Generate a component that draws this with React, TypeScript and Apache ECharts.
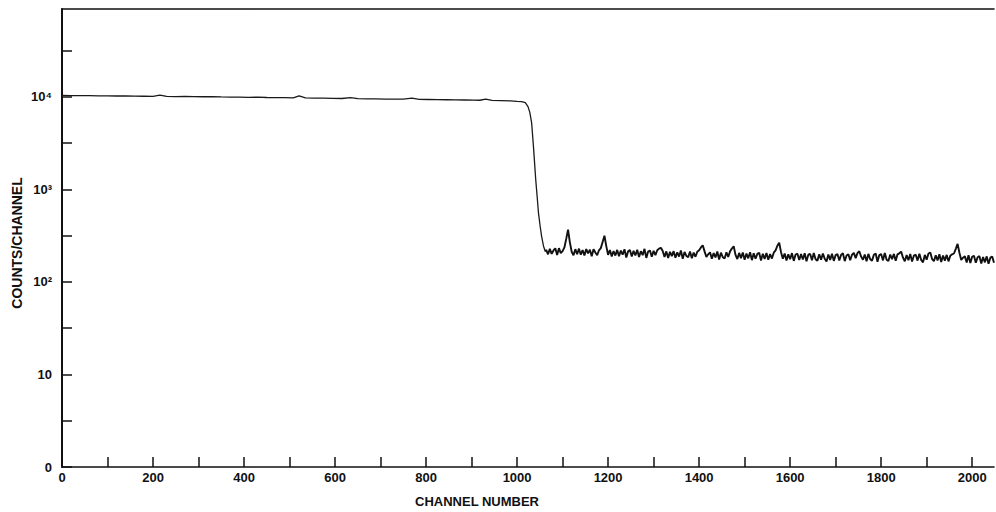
import { useEffect, useRef } from "react";
import * as echarts from "echarts";

// Flat part of the spectrum (channel, counts)
const plateauChannels = [
  0, 20, 40, 60, 80, 100, 120, 140, 160, 180, 200, 215, 230, 250, 270, 290, 310, 330, 350, 370,
  390, 410, 430, 450, 470, 490, 508, 521, 535, 555, 575, 595, 615, 634, 650, 670, 690, 710, 730, 750,
  769, 785, 805, 825, 845, 865, 885, 905, 918, 931, 945, 965, 985, 1000, 1010, 1018,
];
const plateauCounts = [
  10380, 10330, 10300, 10340, 10270, 10250, 10220, 10260, 10190, 10160, 10130, 10460, 10120, 10090, 10110, 10060, 10040, 10070, 10000, 9960,
  9930, 9900, 9920, 9850, 9830, 9800, 9760, 10240, 9740, 9700, 9680, 9640, 9610, 9840, 9570, 9540, 9510, 9480, 9460, 9440,
  9700, 9400, 9370, 9350, 9320, 9280, 9260, 9220, 9200, 9450, 9150, 9110, 9060, 8960, 8900, 8670,
];

// Edge (steep drop)
const dropChannels = [1024, 1028, 1032, 1036, 1041, 1044, 1047, 1051, 1054, 1058, 1062];
const dropCounts = [7850, 6800, 5240, 2900, 1270, 850, 557, 390, 309, 245, 213];

// Tail: counts every 4 channels from channel 1064
const tailStartChannel = 1064;
const tailStep = 4;
const tailCounts = [
  222, 199, 228, 201, 219, 231, 196, 232, 205, 215,
  236, 292, 368, 268, 212, 194, 226, 199, 229, 197,
  221, 193, 227, 204, 223, 190, 226, 208, 195, 220,
  232, 270, 316, 244, 196, 221, 189, 216, 193, 222,
  190, 218, 197, 226, 184, 214, 221, 188, 217, 193,
  223, 186, 215, 195, 228, 182, 213, 219, 187, 217,
  195, 220, 229, 234, 216, 186, 214, 181, 212, 190,
  215, 183, 209, 188, 219, 178, 211, 191, 185, 213,
  180, 208, 187, 212, 220, 236, 249, 214, 186, 199,
  209, 178, 205, 184, 213, 175, 207, 185, 179, 209,
  186, 214, 230, 243, 196, 177, 206, 181, 208, 174,
  203, 180, 209, 172, 204, 178, 201, 207, 170, 202,
  177, 206, 174, 200, 179, 207, 219, 246, 265, 210,
  178, 203, 171, 199, 176, 205, 169, 198, 202, 173,
  200, 175, 204, 167, 197, 201, 172, 205, 176, 170,
  199, 174, 203, 178, 166, 198, 173, 202, 169, 195,
  200, 171, 196, 204, 168, 193, 199, 172, 197, 206,
  181, 205, 215, 188, 174, 198, 167, 201, 176, 170,
  197, 203, 165, 195, 200, 171, 206, 174, 168, 198,
  176, 201, 169, 199, 204, 213, 183, 167, 195, 172,
  200, 166, 193, 197, 170, 202, 173, 163, 196, 174,
  203, 208, 177, 168, 194, 171, 199, 164, 193, 170,
  196, 167, 192, 199, 203, 228, 258, 207, 173, 183,
  189, 162, 194, 160, 187, 192, 161, 185, 190, 158,
  186, 163, 189, 157, 183, 188, 161,
];

const xTickChannels = [
  0, 100, 200, 300, 400, 500, 600, 700, 800, 900, 1000,
  1100, 1200, 1300, 1400, 1500, 1600, 1700, 1800, 1900, 2000,
];
const xLabelChannels = [0, 200, 400, 600, 800, 1000, 1200, 1400, 1600, 1800, 2000];
const yDecadeLabels = ["0", "10", "10²", "10³", "10⁴"];

const xTitle = "CHANNEL NUMBER";
const yTitle = "COUNTS/CHANNEL";

const FONT = "'Liberation Sans', Arial, Helvetica, sans-serif";

export default function App() {
  const ref = useRef<HTMLDivElement>(null);

  useEffect(() => {
    if (!ref.current) return;
    const chart = echarts.init(ref.current, undefined, { renderer: "svg" });

    const head: [number, number][] = [];
    plateauChannels.forEach((c, i) => head.push([c, Math.log10(plateauCounts[i])]));
    dropChannels.forEach((c, i) => head.push([c, Math.log10(dropCounts[i])]));
    const tail: [number, number][] = [
      [dropChannels[dropChannels.length - 1], Math.log10(dropCounts[dropCounts.length - 1])],
    ];
    tailCounts.forEach((v, i) => tail.push([tailStartChannel + i * tailStep, Math.log10(v)]));

    const axisColor = "#111";

    chart.setOption({
      animation: false,
      backgroundColor: "#fff",
      grid: { left: 62, right: 2, top: 9, bottom: 45, containLabel: false },
      xAxis: [
        {
          type: "value",
          min: 0,
          max: 2048,
          interval: 100,
          axisLine: { show: true, onZero: false, lineStyle: { color: axisColor, width: 1.6 } },
          axisTick: {
            show: true,
            inside: true,
            length: 10,
            lineStyle: { color: axisColor, width: 1.5 },
            customValues: xTickChannels,
          },
          axisLabel: {
            color: axisColor,
            fontFamily: FONT,
            fontWeight: "bold",
            fontSize: 13,
            margin: 4,
            customValues: xLabelChannels,
            formatter: (v: number) => (xLabelChannels.includes(v) ? String(v) : ""),
          },
          splitLine: { show: false },
        },
        {
          type: "value",
          position: "top",
          min: 0,
          max: 2048,
          axisLine: { show: true, onZero: false, lineStyle: { color: axisColor, width: 1.6 } },
          axisTick: { show: false },
          axisLabel: { show: false },
          splitLine: { show: false },
        },
      ],
      yAxis: {
        type: "value",
        min: 0,
        max: 4.95,
        interval: 0.5,
        axisLine: { show: true, onZero: false, lineStyle: { color: axisColor, width: 2 } },
        axisTick: { show: true, inside: true, length: 10, lineStyle: { color: axisColor, width: 1.5 } },
        axisLabel: {
          color: axisColor,
          fontFamily: FONT,
          fontWeight: "bold",
          fontSize: 13,
          margin: 10,
          showMaxLabel: false,
          formatter: (v: number) => {
            const r = Math.round(v);
            if (Math.abs(v - r) > 1e-6) return "";
            return yDecadeLabels[r] ?? "";
          },
        },
        splitLine: { show: false },
      },
      graphic: [
        {
          type: "text",
          x: 17,
          y: 243,
          rotation: Math.PI / 2,
          style: {
            text: yTitle,
            fill: axisColor,
            font: `bold 14px ${FONT}`,
            align: "center",
            verticalAlign: "middle",
          },
        },
        {
          type: "text",
          x: 477,
          y: 501,
          style: {
            text: xTitle,
            fill: axisColor,
            font: `bold 13px ${FONT}`,
            align: "center",
            verticalAlign: "middle",
          },
        },
      ],
      series: [
        {
          type: "line",
          xAxisIndex: 0,
          yAxisIndex: 0,
          data: head,
          showSymbol: false,
          symbol: "none",
          lineStyle: { color: "#1a1a1a", width: 1.3 },
          emphasis: { disabled: true },
        },
        {
          type: "line",
          xAxisIndex: 0,
          yAxisIndex: 0,
          data: tail,
          showSymbol: false,
          symbol: "none",
          lineStyle: { color: "#111", width: 1.9 },
          emphasis: { disabled: true },
        },
      ],
    });

    return () => chart.dispose();
  }, []);

  return (
    <div
      ref={ref}
      style={{ position: "fixed", left: 0, top: 0, width: 996, height: 512, background: "#fff" }}
    />
  );
}
